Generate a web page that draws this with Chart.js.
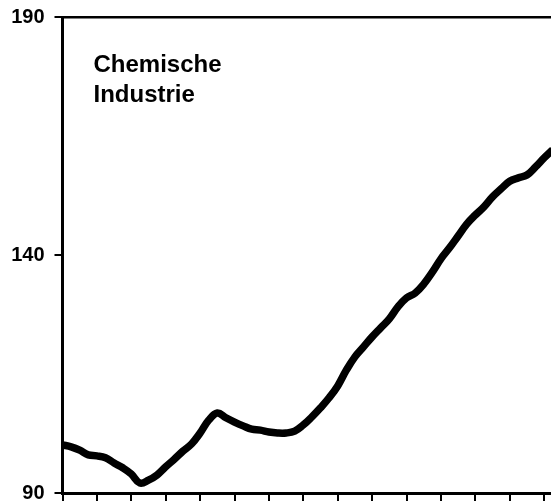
<!DOCTYPE html>
<html>
<head>
<meta charset="utf-8">
<script src="https://cdn.jsdelivr.net/npm/chart.js@4.4.0/dist/chart.umd.min.js"></script>
<style>
  html, body { margin: 0; padding: 0; background: #fff; overflow: hidden; }
  canvas { display: block; }
</style>
</head>
<body>
<canvas id="chart" width="551" height="504"></canvas>
<script>
// Index values, one per quarter (4 per x tick)
const indexValues = [
  100.1, 99.7, 99.0, 98.0, 97.8, 97.4, 96.3, 95.3, 94.0, 92.1,
  92.7, 93.8, 95.5, 97.1, 98.8, 100.3, 102.6, 105.3, 106.8, 105.8,
  104.9, 104.1, 103.4, 103.2, 102.8, 102.6, 102.6, 103.0, 104.3, 106.0,
  107.9, 110.0, 112.5, 115.8, 118.6, 120.7, 122.8, 124.7, 126.6, 129.1,
  131.0, 132.0, 133.9, 136.4, 139.2, 141.5, 144.0, 146.5, 148.4, 150.1,
  152.2, 153.9, 155.5, 156.2, 156.8, 158.5, 160.4, 162.1
];
const perTick = 4;
const yTicks = [90, 140, 190];
const titleLines = ["Chemische", "Industrie"];

const FONT = "Arial, 'Liberation Sans', Helvetica, sans-serif";

const points = indexValues.map((v, i) => ({ x: i / perTick, y: v }));

// draws the label text inside the plot, top left
const titlePlugin = {
  id: "inlineTitle",
  afterDraw(chart) {
    const { ctx, chartArea } = chart;
    ctx.save();
    ctx.fillStyle = "#000";
    ctx.font = "bold 24px " + FONT;
    ctx.textAlign = "left";
    ctx.textBaseline = "alphabetic";
    titleLines.forEach((t, i) => {
      ctx.fillText(t, chartArea.left + 31, chartArea.top + 55 + i * 30);
    });
    ctx.restore();
  }
};

new Chart(document.getElementById("chart"), {
  type: "line",
  data: {
    datasets: [{
      data: points,
      borderColor: "#000",
      borderWidth: 7.5,
      pointRadius: 0,
      tension: 0.4,
      fill: false,
      xAxisID: "x",
      yAxisID: "y"
    }]
  },
  options: {
    responsive: false,
    animation: false,
    devicePixelRatio: 1,
    layout: { padding: { top: 17, right: 0, bottom: 0, left: 0 } },
    plugins: { legend: { display: false }, tooltip: { enabled: false } },
    scales: {
      x: {
        type: "linear",
        position: "bottom",
        min: 0,
        max: 14.2,
        ticks: { display: false, stepSize: 1, includeBounds: false },
        grid: { drawOnChartArea: false, drawTicks: true, tickLength: 8, color: "#000", lineWidth: 2 },
        border: { display: true, color: "#000", width: 3 },
        afterFit: s => { s.height = 11; s.paddingLeft = 0; s.paddingRight = 0; }
      },
      xTop: {
        type: "linear",
        position: "top",
        min: 0,
        max: 1,
        ticks: { display: false },
        grid: { display: false, drawTicks: false },
        border: { display: true, color: "#000", width: 2.5 },
        afterFit: s => { s.height = 0; s.paddingLeft = 0; s.paddingRight = 0; }
      },
      y: {
        min: 90,
        max: 190,
        afterBuildTicks: s => { s.ticks = yTicks.map(v => ({ value: v })); },
        ticks: {
          color: "#000",
          padding: 10,
          font: { family: FONT, size: 20, weight: "bold" }
        },
        grid: { drawOnChartArea: false, drawTicks: true, tickLength: 8, color: "#000", lineWidth: 2 },
        border: { display: true, color: "#000", width: 3 },
        afterFit: s => { s.width = 62.5; s.paddingTop = 0; s.paddingBottom = 0; }
      }
    }
  },
  plugins: [titlePlugin]
});
</script>
</body>
</html>
